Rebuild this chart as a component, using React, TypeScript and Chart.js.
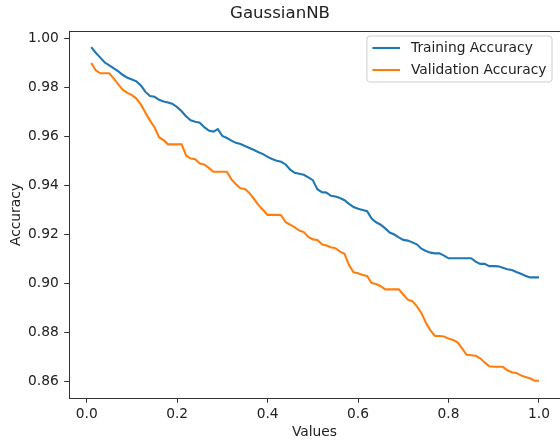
import { useEffect, useRef } from 'react';
import { Chart, registerables } from 'chart.js';

Chart.register(...registerables);

const chartTitle = 'GaussianNB';
const xAxisTitle = 'Values';
const yAxisTitle = 'Accuracy';
const seriesNames = ['Training Accuracy', 'Validation Accuracy'];
const seriesColors = ['#1f77b4', '#ff7f0e'];

const xValues = [
  0.01, 0.02, 0.03, 0.04, 0.05, 0.06, 0.07, 0.08, 0.09, 0.10,
  0.11, 0.12, 0.13, 0.14, 0.15, 0.16, 0.17, 0.18, 0.19, 0.20,
  0.21, 0.22, 0.23, 0.24, 0.25, 0.26, 0.27, 0.28, 0.29, 0.30,
  0.31, 0.32, 0.33, 0.34, 0.35, 0.36, 0.37, 0.38, 0.39, 0.40,
  0.41, 0.42, 0.43, 0.44, 0.45, 0.46, 0.47, 0.48, 0.49, 0.50,
  0.51, 0.52, 0.53, 0.54, 0.55, 0.56, 0.57, 0.58, 0.59, 0.60,
  0.61, 0.62, 0.63, 0.64, 0.65, 0.66, 0.67, 0.68, 0.69, 0.70,
  0.71, 0.72, 0.73, 0.74, 0.75, 0.76, 0.77, 0.78, 0.79, 0.80,
  0.81, 0.82, 0.83, 0.84, 0.85, 0.86, 0.87, 0.88, 0.89, 0.90,
  0.91, 0.92, 0.93, 0.94, 0.95, 0.96, 0.97, 0.98, 0.99, 1.00,
];

const trainingAccuracy = [
  0.9965, 0.9942, 0.9922, 0.9902, 0.9890, 0.9878, 0.9866, 0.9851, 0.9840, 0.9833,
  0.9825, 0.9808, 0.9782, 0.9765, 0.9762, 0.9750, 0.9743, 0.9739, 0.9733, 0.9720,
  0.9703, 0.9682, 0.9666, 0.9660, 0.9656, 0.9638, 0.9624, 0.9620, 0.9630, 0.9602,
  0.9594, 0.9583, 0.9574, 0.9569, 0.9561, 0.9553, 0.9545, 0.9536, 0.9528, 0.9517,
  0.9508, 0.9501, 0.9497, 0.9486, 0.9465, 0.9452, 0.9448, 0.9444, 0.9433, 0.9422,
  0.9385, 0.9373, 0.9371, 0.9358, 0.9355, 0.9349, 0.9340, 0.9325, 0.9312, 0.9305,
  0.9300, 0.9295, 0.9265, 0.9250, 0.9240, 0.9225, 0.9208, 0.9200, 0.9188, 0.9178,
  0.9175, 0.9168, 0.9160, 0.9142, 0.9133, 0.9126, 0.9123, 0.9123, 0.9114, 0.9103,
  0.9103, 0.9103, 0.9103, 0.9103, 0.9103, 0.9089, 0.9080, 0.9080, 0.9071, 0.9071,
  0.9070, 0.9064, 0.9058, 0.9055, 0.9047, 0.9040, 0.9032, 0.9025, 0.9025, 0.9025,
];

const validationAccuracy = [
  0.9900, 0.9870, 0.9858, 0.9858, 0.9858, 0.9836, 0.9813, 0.9790, 0.9778, 0.9769,
  0.9755, 0.9730, 0.9697, 0.9665, 0.9638, 0.9597, 0.9585, 0.9568, 0.9568, 0.9568,
  0.9568, 0.9522, 0.9510, 0.9507, 0.9490, 0.9486, 0.9472, 0.9456, 0.9456, 0.9456,
  0.9456, 0.9425, 0.9405, 0.9389, 0.9386, 0.9369, 0.9345, 0.9320, 0.9300, 0.9280,
  0.9280, 0.9280, 0.9279, 0.9250, 0.9240, 0.9229, 0.9216, 0.9210, 0.9190, 0.9180,
  0.9178, 0.9160, 0.9155, 0.9148, 0.9144, 0.9130, 0.9121, 0.9075, 0.9046, 0.9042,
  0.9035, 0.9031, 0.9002, 0.8998, 0.8989, 0.8976, 0.8976, 0.8976, 0.8976, 0.8955,
  0.8934, 0.8928, 0.8907, 0.8880, 0.8840, 0.8809, 0.8786, 0.8786, 0.8784, 0.8775,
  0.8770, 0.8760, 0.8735, 0.8709, 0.8707, 0.8705, 0.8695, 0.8678, 0.8662, 0.8660,
  0.8660, 0.8660, 0.8646, 0.8638, 0.8635, 0.8625, 0.8618, 0.8613, 0.8603, 0.8603,
];

const xTicks = [0.0, 0.2, 0.4, 0.6, 0.8, 1.0];
const yTicks = [0.86, 0.88, 0.90, 0.92, 0.94, 0.96, 0.98, 1.00];

const FONT = '"DejaVu Sans", sans-serif';
const TEXT_COLOR = '#222222';
const SPINE_COLOR = '#333333';

const topSpinePlugin = {
  id: 'topSpine',
  afterDraw(chart: any) {
    const { ctx, chartArea } = chart;
    ctx.save();
    ctx.strokeStyle = SPINE_COLOR;
    ctx.lineWidth = 1;
    ctx.beginPath();
    ctx.moveTo(chartArea.left, Math.round(chartArea.top) + 0.5);
    ctx.lineTo(chartArea.right, Math.round(chartArea.top) + 0.5);
    ctx.stroke();
    ctx.restore();
  },
};

const legendPlugin = {
  id: 'mplLegend',
  afterDraw(chart: any) {
    const { ctx } = chart;
    const fontSize = 13.8;
    ctx.save();
    ctx.font = `${fontSize}px ${FONT}`;
    const textW = Math.max(...seriesNames.map((n) => ctx.measureText(n).width));
    const pad = 5.5;
    const handle = 27.6;
    const gap = 11;
    const right = 552;
    const top = 36;
    const width = pad + handle + gap + textW + pad;
    const left = right - width;
    const height = 46;
    const r = 3;
    ctx.beginPath();
    ctx.moveTo(left + r, top);
    ctx.lineTo(left + width - r, top);
    ctx.quadraticCurveTo(left + width, top, left + width, top + r);
    ctx.lineTo(left + width, top + height - r);
    ctx.quadraticCurveTo(left + width, top + height, left + width - r, top + height);
    ctx.lineTo(left + r, top + height);
    ctx.quadraticCurveTo(left, top + height, left, top + height - r);
    ctx.lineTo(left, top + r);
    ctx.quadraticCurveTo(left, top, left + r, top);
    ctx.closePath();
    ctx.fillStyle = 'rgba(255,255,255,0.8)';
    ctx.fill();
    ctx.strokeStyle = '#cccccc';
    ctx.lineWidth = 1;
    ctx.stroke();
    const rows = [top + 12, top + 34];
    seriesNames.forEach((name, i) => {
      const y = rows[i];
      ctx.strokeStyle = seriesColors[i];
      ctx.lineWidth = 2.1;
      ctx.beginPath();
      ctx.moveTo(left + pad, y);
      ctx.lineTo(left + pad + handle, y);
      ctx.stroke();
      ctx.fillStyle = TEXT_COLOR;
      ctx.textAlign = 'left';
      ctx.textBaseline = 'middle';
      ctx.fillText(name, left + pad + handle + gap, y);
    });
    ctx.restore();
  },
};

export default function App() {
  const ref = useRef<HTMLCanvasElement>(null);

  useEffect(() => {
    document.body.style.margin = '0';
    const canvas = ref.current;
    if (!canvas) return;
    const chart = new Chart(canvas, {
      type: 'line',
      data: {
        datasets: [
          {
            label: seriesNames[0],
            data: xValues.map((x, i) => ({ x, y: trainingAccuracy[i] })),
            borderColor: seriesColors[0],
            backgroundColor: seriesColors[0],
            borderWidth: 2.1,
            pointRadius: 0,
            tension: 0,
          },
          {
            label: seriesNames[1],
            data: xValues.map((x, i) => ({ x, y: validationAccuracy[i] })),
            borderColor: seriesColors[1],
            backgroundColor: seriesColors[1],
            borderWidth: 2.1,
            pointRadius: 0,
            tension: 0,
          },
        ],
      },
      options: {
        animation: false,
        responsive: false,
        devicePixelRatio: 1,
        layout: { padding: { left: 0, right: 0, top: 0, bottom: 0 } },
        plugins: {
          legend: { display: false },
          tooltip: { enabled: false },
          title: {
            display: true,
            text: chartTitle,
            color: TEXT_COLOR,
            font: { family: FONT, size: 16.6, weight: 'normal' },
            padding: { top: 4, bottom: 7.1 },
          },
        },
        scales: {
          x: {
            type: 'linear',
            min: -0.0391,
            max: 1.0465,
            afterFit: (scale: any) => {
              scale.height = 47;
            },
            afterBuildTicks: (scale: any) => {
              scale.ticks = xTicks.map((v) => ({ value: v }));
            },
            ticks: {
              color: TEXT_COLOR,
              font: { family: FONT, size: 13.8 },
              padding: 3,
              maxRotation: 0,
              autoSkip: false,
              callback: (v: any) => Number(v).toFixed(1),
            },
            grid: {
              display: true,
              drawOnChartArea: false,
              drawTicks: true,
              tickLength: 4.8,
              color: SPINE_COLOR,
              lineWidth: 1,
            },
            border: { display: true, color: SPINE_COLOR, width: 1 },
            title: {
              display: true,
              text: xAxisTitle,
              color: TEXT_COLOR,
              font: { family: FONT, size: 13.8 },
              padding: { top: 0, bottom: 4.7 },
            },
          },
          y: {
            type: 'linear',
            min: 0.85327,
            max: 1.00306,
            afterFit: (scale: any) => {
              scale.width = 69;
            },
            afterBuildTicks: (scale: any) => {
              scale.ticks = yTicks.map((v) => ({ value: v }));
            },
            ticks: {
              color: TEXT_COLOR,
              font: { family: FONT, size: 13.8 },
              padding: 5.5,
              autoSkip: false,
              callback: (v: any) => Number(v).toFixed(2),
            },
            grid: {
              display: true,
              drawOnChartArea: false,
              drawTicks: true,
              tickLength: 4.8,
              color: SPINE_COLOR,
              lineWidth: 1,
            },
            border: { display: true, color: SPINE_COLOR, width: 1 },
            title: {
              display: true,
              text: yAxisTitle,
              color: TEXT_COLOR,
              font: { family: FONT, size: 13.8 },
              padding: { top: 8.2, bottom: 0 },
            },
          },
        },
      },
      plugins: [topSpinePlugin, legendPlugin],
    });
    return () => chart.destroy();
  }, []);

  return (
    <canvas
      ref={ref}
      width={560}
      height={445}
      style={{ display: 'block', width: '560px', height: '445px' }}
    />
  );
}
